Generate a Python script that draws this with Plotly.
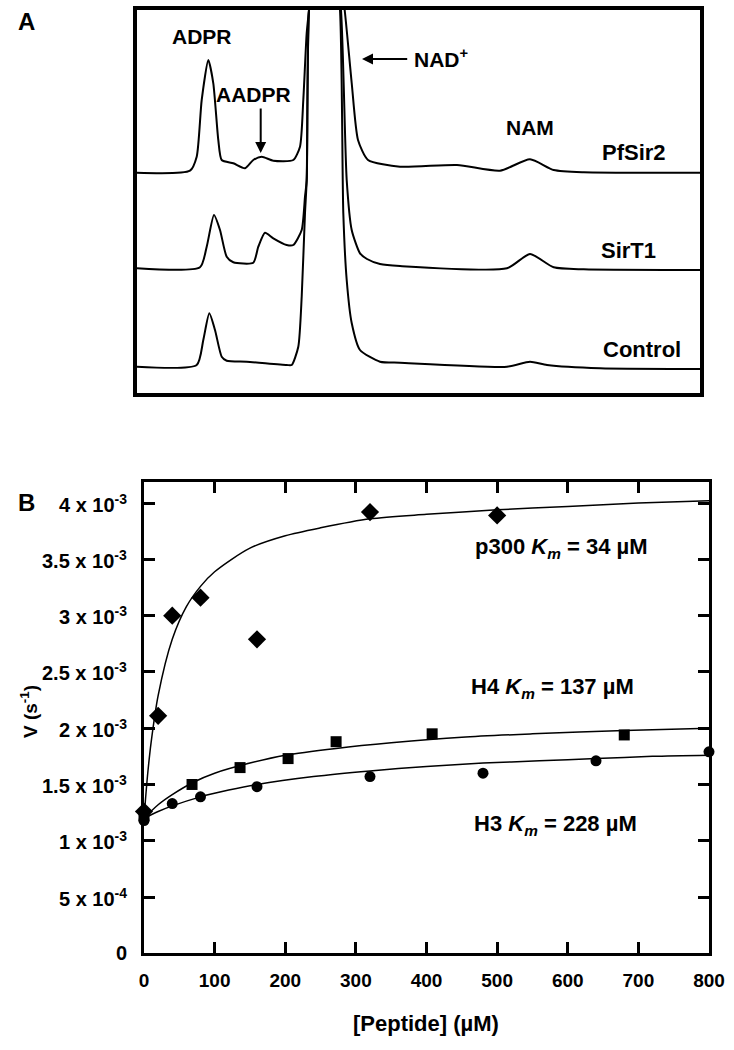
import plotly.graph_objects as go

# ---------------- Panel A: HPLC traces (retention position, absorbance; arbitrary units) ----------------
pf_rt = [0, 53, 59.7, 64.7, 71.3, 76.3, 81.3, 84.7, 96.3, 108, 116.3, 124.7, 136.3, 156.3, 163, 166.3,
         169.7, 172, 188, 208, 214.7, 221, 231, 263, 320, 363, 393, 416.7, 446.7, 563]
pf_abs = [220.3, 222.3, 236.3, 293, 333, 309.7, 253, 233, 229.7, 224.7, 233, 236.3, 232.3, 233, 246.3, 293,
          360, 383, 543, 380, 310, 253, 233, 226.3, 228, 222.3, 233.7, 223, 220.7, 220.3]

st_rt = [0, 63, 69.7, 77, 83, 89.7, 96.3, 116.3, 121.3, 128, 136.3, 149.7, 156.3, 164.7, 168, 169.7, 172,
         188, 204, 209.7, 214.7, 223, 230, 243, 263, 370, 393, 416.7, 446.7, 563]
st_abs = [124.7, 125.7, 146.3, 178, 163, 136.3, 130.7, 130.3, 146.3, 160.3, 154.7, 148, 148, 163, 196.3, 213,
          383, 543, 383, 213, 163, 139.7, 134, 129, 127, 124.7, 139, 125.7, 123.7, 123]

ct_rt = [0, 59.7, 66.3, 72.3, 78, 84.7, 89.7, 109.7, 149.7, 154.7, 161.3, 164.7, 168, 169.7, 172, 188, 203,
         206.3, 209.7, 214.7, 223, 243, 263, 370, 393, 410, 463, 563]
ct_abs = [26.3, 28, 53, 79.7, 63, 36.3, 32.3, 31.3, 28, 28, 46.3, 96.3, 180, 213, 383, 543, 383,
          180, 113, 70, 43, 31.3, 30.3, 26.3, 31.3, 28, 24.7, 24]

# ---------------- Panel B: kinetics ----------------
p300_conc = [0, 20, 40, 80, 160, 320, 500]
p300_v = [1.26e-3, 2.11e-3, 3.00e-3, 3.16e-3, 2.79e-3, 3.92e-3, 3.89e-3]
h4_conc = [0, 68, 136, 204, 272, 408, 680]
h4_v = [1.22e-3, 1.50e-3, 1.65e-3, 1.73e-3, 1.88e-3, 1.95e-3, 1.94e-3]
h3_conc = [0, 40, 80, 160, 320, 480, 640, 800]
h3_v = [1.18e-3, 1.33e-3, 1.39e-3, 1.48e-3, 1.57e-3, 1.60e-3, 1.71e-3, 1.79e-3]

# fitted curves
p300_fit_x = [0, 5, 10, 20, 40, 60, 80, 100, 150, 200, 250, 320, 400, 500, 600, 700, 800]
p300_fit_v = [1.20e-3, 1.58e-3, 1.87e-3, 2.29e-3, 2.79e-3, 3.08e-3, 3.26e-3, 3.39e-3, 3.60e-3, 3.71e-3,
              3.78e-3, 3.86e-3, 3.90e-3, 3.94e-3, 3.97e-3, 4.00e-3, 4.02e-3]
h4_fit_x = [0, 20, 40, 70, 100, 150, 200, 272, 350, 450, 550, 680, 800]
h4_fit_v = [1.20e-3, 1.32e-3, 1.41e-3, 1.52e-3, 1.60e-3, 1.69e-3, 1.76e-3, 1.82e-3, 1.87e-3, 1.92e-3,
            1.95e-3, 1.98e-3, 2.00e-3]
h3_fit_x = [0, 20, 40, 80, 120, 160, 240, 320, 400, 480, 560, 640, 720, 800]
h3_fit_v = [1.20e-3, 1.26e-3, 1.31e-3, 1.39e-3, 1.45e-3, 1.50e-3, 1.57e-3, 1.62e-3, 1.66e-3, 1.69e-3,
            1.71e-3, 1.73e-3, 1.75e-3, 1.76e-3]

x_ticks = [0, 100, 200, 300, 400, 500, 600, 700, 800]
x_ticktext = ["0", "100", "200", "300", "400", "500", "600", "700", "800"]
y_ticks = [0, 5e-4, 1e-3, 1.5e-3, 2e-3, 2.5e-3, 3e-3, 3.5e-3, 4e-3]
y_ticktext = ["0", "5 x 10<sup>-4</sup>", "1 x 10<sup>-3</sup>", "1.5 x 10<sup>-3</sup>",
              "2 x 10<sup>-3</sup>", "2.5 x 10<sup>-3</sup>", "3 x 10<sup>-3</sup>",
              "3.5 x 10<sup>-3</sup>", "4 x 10<sup>-3</sup>"]

FONT = "Liberation Sans, Arial, Helvetica, sans-serif"
W, H = 734, 1050

fig = go.Figure()

trace_line = dict(color="black", width=2, shape="spline", smoothing=0.6)
for xs, ys, nm in [(pf_rt, pf_abs, "PfSir2"), (st_rt, st_abs, "SirT1"), (ct_rt, ct_abs, "Control")]:
    fig.add_trace(go.Scatter(x=xs, y=ys, mode="lines", line=trace_line, name=nm,
                             xaxis="x", yaxis="y", showlegend=False, hoverinfo="skip"))

fit_line = dict(color="black", width=1.5, shape="spline", smoothing=0.8)
for xs, ys in [(p300_fit_x, p300_fit_v), (h4_fit_x, h4_fit_v), (h3_fit_x, h3_fit_v)]:
    fig.add_trace(go.Scatter(x=xs, y=ys, mode="lines", line=fit_line, xaxis="x2", yaxis="y2",
                             showlegend=False, hoverinfo="skip"))

fig.add_trace(go.Scatter(x=p300_conc, y=p300_v, mode="markers", name="p300",
                         marker=dict(symbol="diamond", size=14, color="black"),
                         xaxis="x2", yaxis="y2", showlegend=False, cliponaxis=False))
fig.add_trace(go.Scatter(x=h4_conc, y=h4_v, mode="markers", name="H4",
                         marker=dict(symbol="square", size=11, color="black"),
                         xaxis="x2", yaxis="y2", showlegend=False, cliponaxis=False))
fig.add_trace(go.Scatter(x=h3_conc, y=h3_v, mode="markers", name="H3",
                         marker=dict(symbol="circle", size=11, color="black"),
                         xaxis="x2", yaxis="y2", showlegend=False, cliponaxis=False))


# pixel -> paper helpers for layout only
def px(xp):
    return xp / W


def py(yp):
    return 1 - yp / H


bold = dict(family=FONT, color="black", weight="bold")
tickf = dict(family=FONT, color="black", size=19, weight="bold")
ytickf = dict(family=FONT, color="black", size=20, weight="bold")

fig.update_layout(
    width=W, height=H, margin=dict(l=0, r=0, t=0, b=0),
    font=dict(family=FONT, color="black", size=19, weight="bold"),
    paper_bgcolor="white", plot_bgcolor="white",
    xaxis=dict(domain=[px(137), px(700)], range=[0, 563], showline=True, mirror=True,
               linewidth=4, linecolor="black", showticklabels=False, ticks="",
               showgrid=False, zeroline=False, fixedrange=True),
    yaxis=dict(domain=[py(393), py(10)], range=[0, 383], showline=True, mirror=True,
               linewidth=4, linecolor="black", showticklabels=False, ticks="",
               showgrid=False, zeroline=False, fixedrange=True),
    xaxis2=dict(domain=[px(144), px(709)], anchor="y2", range=[0, 800],
                tickmode="array", tickvals=x_ticks, ticktext=x_ticktext,
                ticks="inside", ticklen=11, tickwidth=2.5, tickcolor="black",
                showline=True, mirror="ticks", linewidth=3, linecolor="black",
                showgrid=False, zeroline=False, tickfont=tickf, automargin=False,
                ticklabelstandoff=8),
    yaxis2=dict(domain=[py(953.3), py(481.7)], anchor="x2", range=[0, 4.19e-3],
                tickmode="array", tickvals=y_ticks, ticktext=y_ticktext,
                ticks="inside", ticklen=11, tickwidth=2.5, tickcolor="black",
                showline=True, mirror="ticks", linewidth=3, linecolor="black",
                showgrid=False, zeroline=False, showticklabels=False, automargin=False),
)

ann = []
C = dict(xanchor="center", yanchor="middle", showarrow=False)

# y tick labels, placed at the y2 scale positions
for v, t in zip(y_ticks, y_ticktext):
    ann.append(dict(x=px(129), y=v, xref="paper", yref="y2", text=t, showarrow=False,
                    xanchor="right", yanchor="middle", font=ytickf))

# panel letters
ann.append(dict(x=px(26), y=py(22), xref="paper", yref="paper", text="A",
                font=dict(size=24, **bold), **C))
ann.append(dict(x=px(26), y=py(502), xref="paper", yref="paper", text="B",
                font=dict(size=24, **bold), **C))

# panel A labels
labA = dict(size=21, **bold)
labR = dict(size=22, **bold)
ann.append(dict(x=64.7, y=356.3, xref="x", yref="y", text="ADPR", font=labA, **C))
ann.append(dict(x=116, y=298, xref="x", yref="y", text="AADPR", font=labA, **C))
ann.append(dict(x=275, y=335, xref="x", yref="y", text="NAD<sup>+</sup>", showarrow=False,
                xanchor="left", yanchor="middle", font=labA))
ann.append(dict(x=392.5, y=265, xref="x", yref="y", text="NAM", font=labA, **C))
ann.append(dict(x=496.5, y=240, xref="x", yref="y", text="PfSir2", font=labR, **C))
ann.append(dict(x=491.5, y=142.3, xref="x", yref="y", text="SirT1", font=labR, **C))
ann.append(dict(x=504.8, y=43, xref="x", yref="y", text="Control", font=labR, **C))
# arrows
ann.append(dict(x=123.7, y=240, ax=123.7, ay=286, xref="x", yref="y", axref="x", ayref="y",
                text="", showarrow=True, arrowhead=2, arrowsize=1.1, arrowwidth=2, arrowcolor="black"))
ann.append(dict(x=225, y=334, ax=271.7, ay=334, xref="x", yref="y", axref="x", ayref="y",
                text="", showarrow=True, arrowhead=2, arrowsize=1.1, arrowwidth=2, arrowcolor="black"))

# panel B labels
labB = dict(size=22, **bold)
ann.append(dict(x=591, y=3.60e-3, xref="x2", yref="y2",
                text="p300 <i>K</i><sub><i>m</i></sub> = 34 µM", font=labB, **C))
ann.append(dict(x=578, y=2.36e-3, xref="x2", yref="y2",
                text="H4 <i>K</i><sub><i>m</i></sub> = 137 µM", font=labB, **C))
ann.append(dict(x=582, y=1.14e-3, xref="x2", yref="y2",
                text="H3 <i>K</i><sub><i>m</i></sub> = 228 µM", font=labB, **C))
# axis titles
ann.append(dict(x=px(29), y=py(712), xref="paper", yref="paper", text="V (s<sup>-1</sup>)",
                textangle=-90, font=dict(size=19, **bold), **C))
ann.append(dict(x=px(426.5), y=py(1023), xref="paper", yref="paper", text="[Peptide] (µM)",
                font=dict(size=22, **bold), **C))

fig.update_layout(annotations=ann)

fig.write_html("out.html", config={"displayModeBar": False},
               post_script="document.body.style.margin='0';")
